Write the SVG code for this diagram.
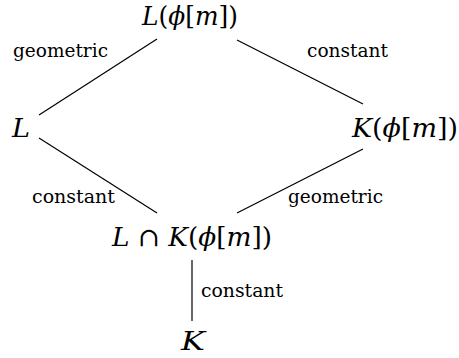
<svg xmlns="http://www.w3.org/2000/svg" width="459" height="358" viewBox="0 0 459 358">
<style>
.math{font-family:"DejaVu Serif","Liberation Serif",serif;font-size:26px;fill:#000}
.i{font-style:italic}
.lbl{font-family:"DejaVu Serif","Liberation Serif",serif;font-size:19px;fill:#000}
.edge{stroke:#000;stroke-width:1.2;fill:none}
</style>
<rect width="459" height="358" fill="#fff"/>
<g id="connectors">
<line class="edge" x1="157" y1="39" x2="39" y2="115"/>
<line class="edge" x1="237" y1="40" x2="363" y2="104"/>
<line class="edge" x1="39" y1="138" x2="157" y2="213"/>
<line class="edge" x1="363" y1="149" x2="237" y2="213"/>
<line class="edge" x1="192" y1="260" x2="192" y2="321"/>
</g>
<g id="edge-labels">
<text class="lbl" x="13" y="57" textLength="95" lengthAdjust="spacingAndGlyphs">geometric</text>
<text class="lbl" x="307" y="57" textLength="81" lengthAdjust="spacingAndGlyphs">constant</text>
<text class="lbl" x="32" y="203" textLength="83" lengthAdjust="spacingAndGlyphs">constant</text>
<text class="lbl" x="288" y="203" textLength="95" lengthAdjust="spacingAndGlyphs">geometric</text>
<text class="lbl" x="201" y="297" textLength="82" lengthAdjust="spacingAndGlyphs">constant</text>
</g>
<g id="node-top">
<text class="math" x="142" y="25" textLength="96" lengthAdjust="spacingAndGlyphs"><tspan class="i">L</tspan>(<tspan class="i">ϕ</tspan>[<tspan class="i">m</tspan>])</text>
</g>
<g id="node-L">
<text class="math i" x="12" y="137" textLength="18" lengthAdjust="spacingAndGlyphs">L</text>
</g>
<g id="node-Kphi">
<text class="math" x="352" y="137" textLength="106" lengthAdjust="spacingAndGlyphs"><tspan class="i">K</tspan>(<tspan class="i">ϕ</tspan>[<tspan class="i">m</tspan>])</text>
</g>
<g id="node-intersection">
<text class="math" x="112" y="246" textLength="160" lengthAdjust="spacingAndGlyphs"><tspan class="i">L</tspan> ∩ <tspan class="i">K</tspan>(<tspan class="i">ϕ</tspan>[<tspan class="i">m</tspan>])</text>
</g>
<g id="node-K">
<text class="math i" x="181" y="350" textLength="24" lengthAdjust="spacingAndGlyphs">K</text>
</g>
</svg>
